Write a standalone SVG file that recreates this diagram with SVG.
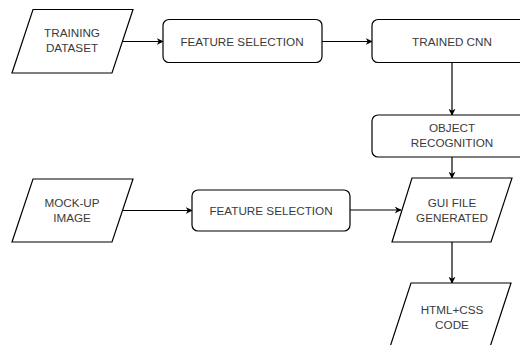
<svg xmlns="http://www.w3.org/2000/svg" width="520" height="345" viewBox="0 0 520 345">
<defs>
<style>
.shape{fill:#fff;stroke:#000;stroke-width:1.2}
.lbl{font-family:"Liberation Sans",Arial,sans-serif;font-size:11.7px;fill:#3a3a3a;text-anchor:middle}
.conn{fill:none;stroke:#000;stroke-width:1.2}
</style>
<marker id="arr" viewBox="0 0 10 10" refX="9" refY="5" markerWidth="7" markerHeight="7" orient="auto" markerUnits="userSpaceOnUse">
<path d="M0,0 L10,5 L0,10 L3,5 Z" fill="#000"/>
</marker>
</defs>
<rect width="520" height="345" fill="#fff"/>
<g id="connectors">
<line class="conn" x1="123" y1="41.5" x2="163" y2="41.5" marker-end="url(#arr)"/>
<line class="conn" x1="322" y1="41.5" x2="372" y2="41.5" marker-end="url(#arr)"/>
<line class="conn" x1="452" y1="62" x2="452" y2="115" marker-end="url(#arr)"/>
<line class="conn" x1="452" y1="157" x2="452" y2="178" marker-end="url(#arr)"/>
<line class="conn" x1="123" y1="210.5" x2="192" y2="210.5" marker-end="url(#arr)"/>
<line class="conn" x1="350" y1="210" x2="401" y2="210" marker-end="url(#arr)"/>
<line class="conn" x1="452" y1="242" x2="452" y2="283" marker-end="url(#arr)"/>
</g>
<g id="training-dataset">
<polygon class="shape" points="33,9.5 133,9.5 112,73 12,73"/>
<text class="lbl" x="72" y="37">TRAINING</text>
<text class="lbl" x="72" y="52">DATASET</text>
</g>
<g id="feature-selection-1">
<rect class="shape" x="163" y="19.5" width="159" height="43" rx="6"/>
<text class="lbl" x="242" y="45.5">FEATURE SELECTION</text>
</g>
<g id="trained-cnn">
<rect class="shape" x="372" y="19.5" width="160" height="43" rx="6"/>
<text class="lbl" x="452" y="45.5">TRAINED CNN</text>
</g>
<g id="object-recognition">
<rect class="shape" x="372" y="115" width="160" height="42" rx="6"/>
<text class="lbl" x="452" y="132">OBJECT</text>
<text class="lbl" x="452" y="147">RECOGNITION</text>
</g>
<g id="mock-up-image">
<polygon class="shape" points="33,179 133,179 112,242 12,242"/>
<text class="lbl" x="72" y="207">MOCK-UP</text>
<text class="lbl" x="72" y="222">IMAGE</text>
</g>
<g id="feature-selection-2">
<rect class="shape" x="192" y="190" width="158" height="41" rx="6"/>
<text class="lbl" x="271" y="214.5">FEATURE SELECTION</text>
</g>
<g id="gui-file">
<polygon class="shape" points="412,178 512,178 491,242 392,242"/>
<text class="lbl" x="452" y="207">GUI FILE</text>
<text class="lbl" x="452" y="222">GENERATED</text>
</g>
<g id="html-css-code">
<polygon class="shape" points="411,283 511,283 490,347 390,347"/>
<text class="lbl" x="452" y="314">HTML+CSS</text>
<text class="lbl" x="452" y="329">CODE</text>
</g>
</svg>
